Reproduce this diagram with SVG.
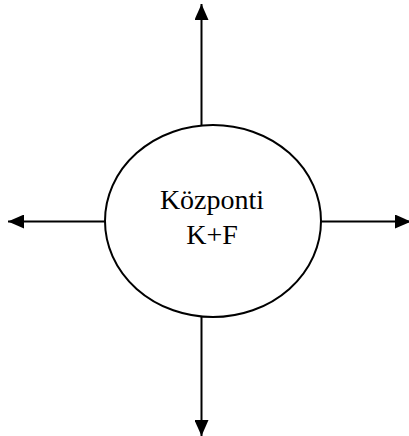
<svg xmlns="http://www.w3.org/2000/svg" width="409" height="436" viewBox="0 0 409 436">
  <style>
    .edge { stroke: #000; stroke-width: 2; fill: none; }
    .node { fill: #fff; stroke: #000; stroke-width: 2; }
    .label { font-family: "Liberation Serif", "Times New Roman", serif; font-size: 28px; fill: #000; text-anchor: middle; }
  </style>
  <defs>
    <marker id="arrow" markerUnits="userSpaceOnUse" markerWidth="16" markerHeight="14" refX="16" refY="7" orient="auto">
      <path d="M0,0 L16,7 L0,14 Z" fill="#000"/>
    </marker>
  </defs>
  <g id="connectors">
    <line class="edge" x1="201.5" y1="125" x2="201.5" y2="4" marker-end="url(#arrow)"/>
    <line class="edge" x1="201.5" y1="317" x2="201.5" y2="436" marker-end="url(#arrow)"/>
    <line class="edge" x1="105" y1="221.5" x2="8" y2="221.5" marker-end="url(#arrow)"/>
    <line class="edge" x1="321" y1="221.5" x2="411" y2="221.5" marker-end="url(#arrow)"/>
  </g>
  <g id="center">
    <ellipse class="node" cx="213" cy="221" rx="108" ry="96"/>
    <text class="label" x="212" y="209">Központi</text>
    <text class="label" x="212" y="244">K+F</text>
  </g>
</svg>
